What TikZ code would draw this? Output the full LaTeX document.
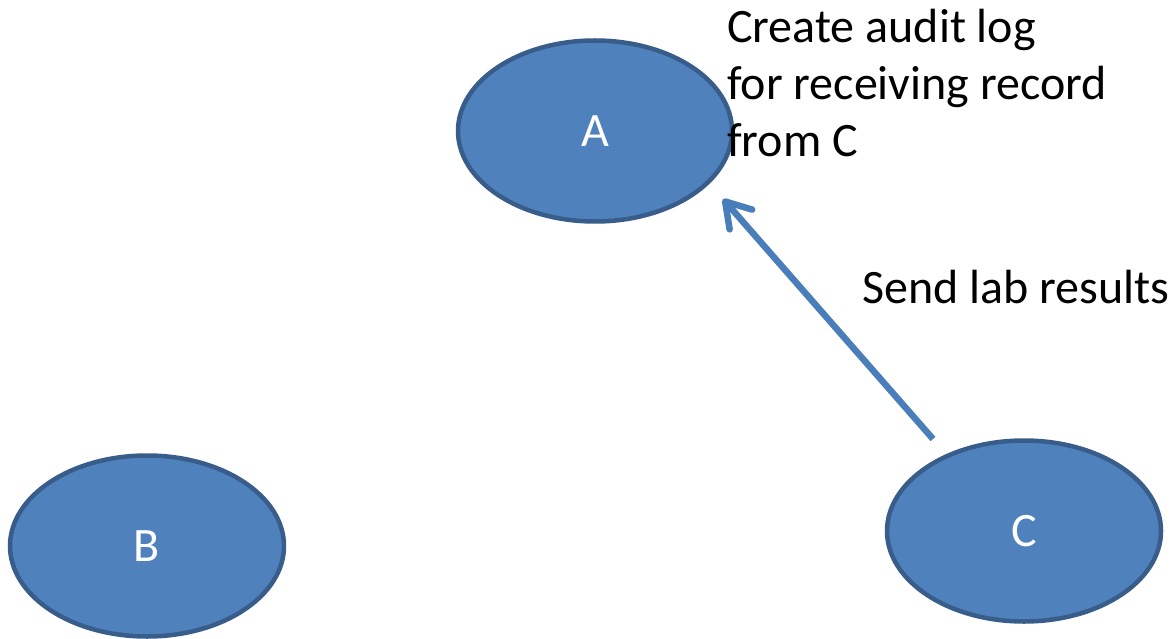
\documentclass[tikz,border=0pt]{standalone}
\usepackage{fontspec}
\setmainfont{Carlito}
\usetikzlibrary{shapes.geometric,arrows.meta}
\definecolor{ellfill}{HTML}{4F81BD}
\definecolor{elldraw}{HTML}{385D8A}
\definecolor{arrcol}{HTML}{4A7EBB}
\begin{document}
\begin{tikzpicture}[x=1pt,y=-1pt,
  bubble/.style={ellipse, draw=elldraw, fill=ellfill, line width=4.5pt,
    minimum width=274pt, minimum height=181pt, inner sep=0pt,
    text=white, font=\fontsize{48}{57}\selectfont},
  lbl/.style={inner sep=0pt, text=black, font=\fontsize{48}{57}\selectfont},
  flow/.style={draw=arrcol, line width=6.5pt,
    -{Straight Barb[length=24pt,width=30pt,round]}}]
\useasboundingbox (0,0) rectangle (1174,639);
\node[bubble] (A) at (595,131) {A};
\node[bubble] (B) at (147,546) {B};
\node[bubble] (C) at (1024,531) {C};
\coordinate (cs) at (933,439);
\coordinate (ae) at (723,199);
\draw[flow] (cs) -- (ae);
\node[lbl, anchor=north west, align=left] (note) at (727,9) {Create audit log\\for receiving record\\from C};
\node[lbl, anchor=base west] (send) at (862,303) {Send lab results};
\end{tikzpicture}
\end{document}
